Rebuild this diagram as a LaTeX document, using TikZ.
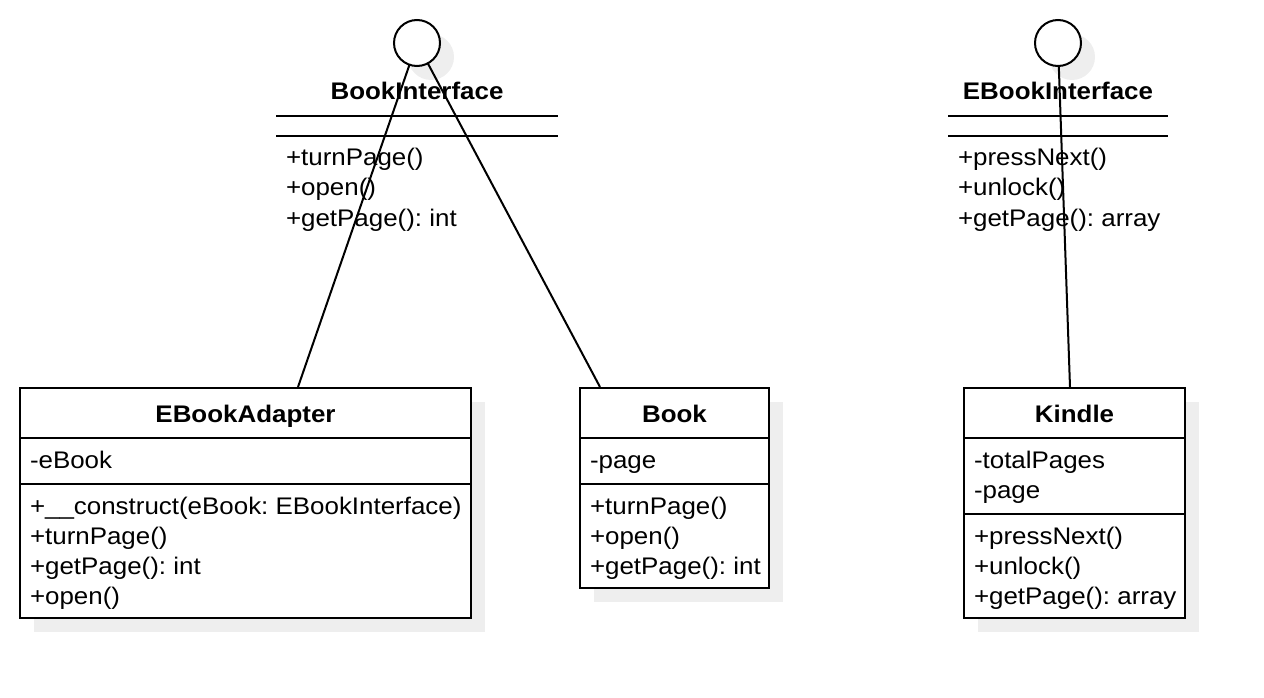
\documentclass[tikz,border=0pt]{standalone}
\usepackage{fontspec}
\setmainfont{Liberation Sans}[FakeStretch=1.08]
\definecolor{shadowgray}{HTML}{EEEEEE}
\frenchspacing
\begin{document}
\begin{tikzpicture}[x=1pt,y=-1pt,
  every node/.style={inner sep=0pt, outer sep=0pt, font=\fontsize{24}{30}\selectfont},
  box/.style={draw=black, line width=2pt, fill=white},
  shade/.style={fill=shadowgray, draw=none},
  sep/.style={draw=black, line width=2pt},
  title/.style={font=\fontsize{24}{30}\selectfont\bfseries, anchor=base},
  member/.style={anchor=base west},
  iface/.style={circle, draw=black, line width=2pt, fill=white, minimum size=46pt},
  link/.style={draw=black, line width=2pt}
]
\useasboundingbox (0,0) rectangle (1264,698);

% shadows
\fill[shade] (431,57) circle (23);
\fill[shade] (1072,57) circle (23);
\fill[shade] (34,402) rectangle (485,632);
\fill[shade] (594,402) rectangle (783,602);
\fill[shade] (978,402) rectangle (1199,632);

% BookInterface
\node[iface] (bi) at (417,43) {};
\node[title] (bit) at (417,100) {BookInterface};
\draw[sep] (276,116) -- (558,116);
\draw[sep] (276,136) -- (558,136);
\node[member] (bim1) at (286,166) {+turnPage()};
\node[member] (bim2) at (286,196) {+open()};
\node[member] (bim3) at (286,226) {+getPage(): int};

% EBookInterface
\node[iface] (ei) at (1058,43) {};
\node[title] (eit) at (1058,100) {EBookInterface};
\draw[sep] (948,116) -- (1168,116);
\draw[sep] (948,136) -- (1168,136);
\node[member] (eim1) at (958,166) {+pressNext()};
\node[member] (eim2) at (958,196) {+unlock()};
\node[member] (eim3) at (958,226) {+getPage(): array};

% EBookAdapter
\draw[box] (20,388) rectangle (471,618);
\draw[sep] (20,438) -- (471,438);
\draw[sep] (20,484) -- (471,484);
\node[title] (eat) at (245.5,422) {EBookAdapter};
\node[member] (ea1) at (30,468) {-eBook};
\node[member] (ea2) at (30,514) {+\_\_construct(eBook: EBookInterface)};
\node[member] (ea3) at (30,544) {+turnPage()};
\node[member] (ea4) at (30,574) {+getPage(): int};
\node[member] (ea5) at (30,604) {+open()};

% Book
\draw[box] (580,388) rectangle (769,588);
\draw[sep] (580,438) -- (769,438);
\draw[sep] (580,484) -- (769,484);
\node[title] (bkt) at (674.5,422) {Book};
\node[member] (bk1) at (590,468) {-page};
\node[member] (bk2) at (590,514) {+turnPage()};
\node[member] (bk3) at (590,544) {+open()};
\node[member] (bk4) at (590,574) {+getPage(): int};

% Kindle
\draw[box] (964,388) rectangle (1185,618);
\draw[sep] (964,438) -- (1185,438);
\draw[sep] (964,514) -- (1185,514);
\node[title] (kt) at (1074.5,422) {Kindle};
\node[member] (k1) at (974,468) {-totalPages};
\node[member] (k2) at (974,498) {-page};
\node[member] (k3) at (974,544) {+pressNext()};
\node[member] (k4) at (974,574) {+unlock()};
\node[member] (k5) at (974,604) {+getPage(): array};

% connector end points on box tops
\coordinate (eatop) at (298,387);
\coordinate (bktop) at (600,387);
\coordinate (ktop) at (1070,387);

\draw[link] (bi) -- (eatop);
\draw[link] (bi) -- (bktop);
\draw[link] (ei) -- (ktop);
\end{tikzpicture}
\end{document}
